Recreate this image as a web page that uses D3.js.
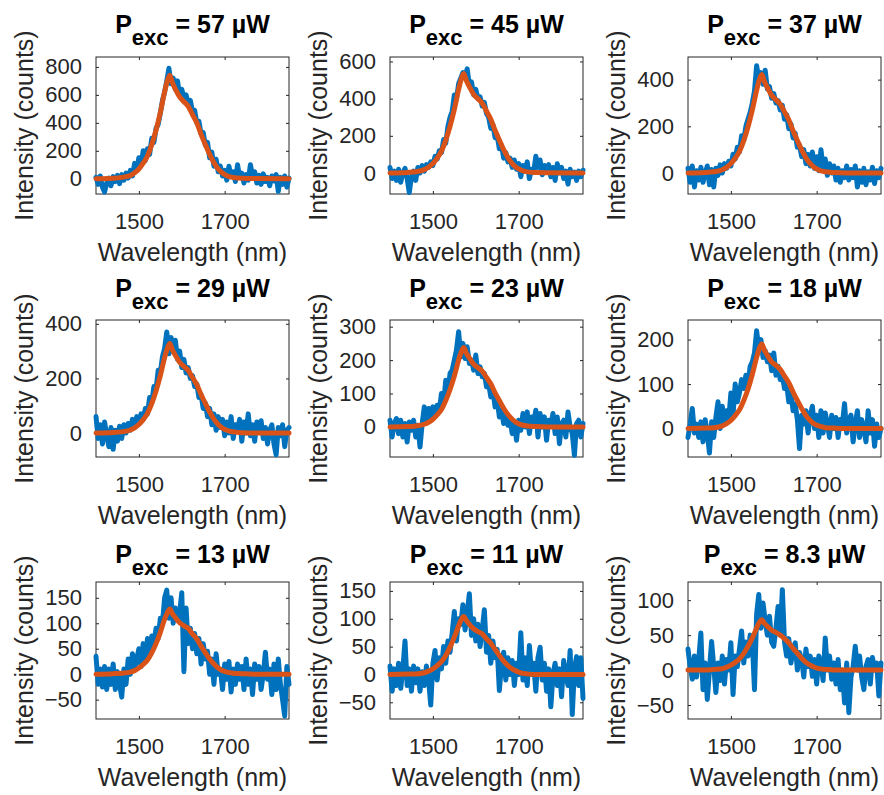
<!DOCTYPE html>
<html>
<head>
<meta charset="utf-8">
<script src="https://cdn.jsdelivr.net/npm/d3@7"></script>
<style>
    body { margin: 0; background: #fff; }
    svg { display: block; font-family: 'Liberation Sans', Arial, Helvetica, sans-serif; }
</style>
</head>
<body>
<svg width="884" height="795"></svg>
<script>
// ---- Dados
const wavelength = [
    1400, 1405, 1410, 1415, 1420, 1425, 1430, 1435, 1440, 1445,
    1450, 1455, 1460, 1465, 1470, 1475, 1480, 1485, 1490, 1495,
    1500, 1505, 1510, 1515, 1520, 1525, 1530, 1535, 1540, 1545,
    1550, 1555, 1560, 1565, 1570, 1575, 1580, 1585, 1590, 1595,
    1600, 1605, 1610, 1615, 1620, 1625, 1630, 1635, 1640, 1645,
    1650, 1655, 1660, 1665, 1670, 1675, 1680, 1685, 1690, 1695,
    1700, 1705, 1710, 1715, 1720, 1725, 1730, 1735, 1740, 1745,
    1750, 1755, 1760, 1765, 1770, 1775, 1780, 1785, 1790, 1795,
    1800, 1805, 1810, 1815, 1820, 1825, 1830, 1835, 1840, 1845,
    1850
];

const fitWavelength = [1400, 1440, 1460, 1480, 1490, 1500, 1510, 1520, 1530, 1540, 1550, 1560, 1566, 1572, 1578, 1586,
    1595, 1605, 1615, 1625, 1635, 1645, 1655, 1665, 1675, 1685, 1695, 1705, 1720, 1740, 1770, 1850];

const powers = ['57', '45', '37', '29', '23', '18', '13', '11', '8.3'];

const spec57 = [
    10, -40, 20, -60, -95, -30, 5, -50, 15, -20,
    25, -35, 30, -10, 40, 5, 60, 20, 110, 60,
    150, 95, 200, 130, 215, 175, 290, 260, 360, 390,
    470, 560, 620, 700, 790, 680, 720, 640, 700, 600,
    640, 580, 600, 540, 560, 480, 490, 400, 410, 320,
    330, 240, 260, 150, 190, 90, 140, 50, 90, 20,
    60, -10, 90, 15, 50, -20, 100, 10, 40, -30,
    30, -10, 100, 20, 50, -30, 25, -40, 35, -20,
    10, -50, 20, -15, 30, -90, 10, -40, 20, -60,
    5
];
const spec45 = [
    30, -30, 10, -40, 20, -50, 0, 25, -30, -105,
    -20, 10, -40, 30, 0, 40, 10, 45, 30, 60,
    40, 90, 75, 120, 110, 180, 160, 250, 300, 330,
    420, 400, 480, 510, 540, 520, 560, 470, 490, 420,
    450, 400, 410, 360, 380, 320, 300, 240, 260, 190,
    200, 130, 150, 80, 110, 60, 80, 30, 70, 20,
    50, -20, 40, 10, 60, -30, 20, 5, 90, 30,
    70, -10, 40, 10, 45, -20, 30, -40, 50, 0,
    30, -30, 10, -60, 20, -20, 5, -40, 10, -20,
    15
];
const spec37 = [
    20, -40, 30, -60, 10, -30, 25, -40, 0, 30,
    -50, 15, -60, 20, -10, 35, 0, 40, 20, 50,
    30, 80, 60, 110, 90, 160, 140, 200, 230, 260,
    300, 350, 460, 400, 430, 380, 440, 360, 370, 320,
    340, 300, 310, 270, 290, 230, 250, 190, 210, 150,
    170, 110, 120, 70, 100, 40, 80, 30, 90, 20,
    70, 10, 100, 20, 60, -10, 40, 0, 30, -30,
    20, -40, 10, -20, 30, -30, 15, -20, 30, -60,
    10, -40, 20, -50, 5, -30, 25, -45, 10, -20,
    20
];
const spec29 = [
    60, -20, 30, -40, 40, -10, -50, 20, -60, 10,
    -30, 25, -20, 30, 0, 35, 10, 50, 20, 60,
    40, 70, 50, 90, 70, 130, 110, 170, 160, 230,
    220, 280, 310, 370, 290, 350, 300, 340, 270, 300,
    240, 270, 220, 240, 200, 210, 170, 180, 130, 140,
    90, 110, 60, 90, 30, 70, 10, 60, 20, 50,
    -10, 40, 0, 60, -20, 30, 10, 50, -30, 40,
    0, 70, -10, 30, -30, 40, 10, 45, -20, 20,
    -40, 10, 30, -40, -80, 20, -10, 30, -50, 10,
    20
];
const spec23 = [
    20, -30, 10, 25, -20, 20, -30, 10, -45, 15,
    -10, 20, -30, 5, -60, 10, 60, 20, 55, 30,
    60, 40, 65, 50, 100, 70, 140, 100, 160, 170,
    200, 230, 285, 210, 250, 205, 240, 190, 200, 170,
    215, 160, 180, 150, 160, 120, 130, 90, 110, 60,
    80, 30, 50, 10, 40, 5, 20, -20, 10, -40,
    20, -10, 40, 0, 45, -20, 30, 10, 50, -30,
    40, 0, 30, -40, 20, 5, 40, -20, 30, -50,
    10, 20, -30, 45, 0, -20, -85, 10, 20, -30,
    10
];
const spec18 = [
    -20, 10, 45, -10, 10, -20, 15, -30, 20, -10,
    -55, 15, -20, 25, 60, 0, 50, 10, 40, 20,
    80, 30, 100, 60, 80, 110, 90, 120, 100, 140,
    150, 170, 220, 180, 200, 160, 175, 150, 165, 130,
    170, 120, 140, 110, 120, 90, 100, 60, 80, 40,
    55, 20, -45, 30, 10, 40, -10, 30, 50, 0,
    30, -20, 40, -10, 35, 10, -20, 30, 0, 25,
    -20, 20, 10, 56, -10, 20, 30, -30, 10, 40,
    -20, 20, 0, -30, 40, -10, 20, -40, 10, -20,
    0
];
const spec13 = [
    35, -20, 10, -25, 15, -30, 10, -20, 20, -30,
    5, -20, -45, 10, -20, 30, 0, 40, 10, 30,
    50, 15, 60, 30, 70, 40, 75, 60, 90, 70,
    110, 100, 150, 165, 110, 150, 100, 130, 110, 120,
    160, 5, 130, 60, 90, 50, 80, 40, 70, 20,
    60, 30, 45, 0, 30, -20, 40, 0, 10, -30,
    20, -10, 25, -35, 10, -20, 20, -10, 15, -30,
    30, -20, 10, -40, 20, -10, 15, -30, 0, 43,
    -10, 10, -40, 20, -30, 30, -20, -50, -82, 15,
    -20
];
const spec11 = [
    15, -30, 10, -20, 20, -25, 10, 60, -20, 10,
    -30, 15, -15, 10, -30, 5, -20, 15, -10, -55,
    20, 43, -10, 30, 10, 50, 20, 60, 40, 75,
    113, 60, 100, 90, 125, 80, 110, 145, 70, 100,
    60, 90, 50, 80, 116, 40, 70, 20, 60, 30,
    45, -29, 20, 40, -10, 30, 0, 25, -20, 20,
    0, 75, -10, 30, -20, 52, 0, 20, -30, 30,
    49, -10, 20, -30, 10, -58, 0, 20, -20, 10,
    -40, 25, 0, -20, 43, -72, 10, 32, -20, 30,
    -43
];
const spec8p3 = [
    30, 5, -13, 20, -10, 15, 53, -28, 10, -42,
    0, 41, 5, -32, 10, -15, 20, -20, 15, 0,
    39, -35, 20, 5, 30, 56, 10, 40, 20, 50,
    40, -28, 80, 108, 60, 96, 70, 50, 77, 40,
    34, 60, 91, 50, 115, 40, 20, 45, 10, 30,
    39, 0, 25, 15, -10, 30, 5, 20, -9, 15,
    -20, 20, 10, -15, 46, 0, 20, -13, 10, -20,
    15, -28, 0, -47, 10, -61, -10, 5, 34, 0,
    20, -10, -28, 5, 15, -20, 18, 0, 10, -37,
    10
];

// ajuste (curva laranja)
const fit57  = [0, 4, 10, 24, 43, 70, 111, 163, 244, 348, 474, 622, 696, 740, 688, 636, 585, 551, 518, 459, 400, 318, 244, 174, 115, 70, 41, 22, 9, 3, 1, 0];
const fit45  = [0, 3, 7, 18, 31, 51, 80, 118, 177, 251, 342, 449, 503, 535, 498, 460, 423, 399, 375, 332, 289, 230, 177, 126, 83, 51, 29, 16, 6, 2, 1, 0];
const fit37  = [0, 2, 5, 14, 24, 40, 63, 93, 139, 198, 270, 354, 397, 422, 392, 363, 333, 314, 295, 262, 228, 181, 139, 99, 65, 40, 23, 13, 5, 2, 0, 0];
const fit29  = [0, 2, 4, 11, 19, 31, 49, 72, 108, 154, 210, 276, 308, 328, 305, 282, 259, 244, 230, 203, 177, 141, 108, 77, 51, 31, 18, 10, 4, 1, 0, 0];
const fit23  = [0, 1, 3, 8, 14, 23, 36, 52, 79, 112, 152, 200, 224, 238, 221, 205, 188, 177, 167, 148, 129, 102, 79, 56, 37, 23, 13, 7, 3, 1, 0, 0];
const fit18  = [0, 1, 2, 6, 11, 18, 29, 42, 63, 89, 122, 160, 179, 190, 177, 163, 150, 142, 133, 118, 103, 82, 63, 45, 29, 18, 10, 6, 2, 1, 0, 0];
const fit13  = [0, 1, 2, 4, 7, 12, 19, 28, 42, 60, 82, 108, 120, 128, 119, 110, 101, 95, 90, 79, 69, 55, 42, 30, 20, 12, 7, 4, 2, 1, 0, 0];
const fit11  = [0, 1, 1, 3, 6, 10, 16, 23, 34, 49, 67, 87, 98, 104, 97, 89, 82, 77, 73, 64, 56, 45, 34, 24, 16, 10, 6, 3, 1, 0, 0, 0];
const fit8p3 = [0, 0, 1, 2, 4, 7, 11, 16, 24, 34, 46, 60, 68, 72, 67, 62, 57, 54, 50, 45, 39, 31, 24, 17, 11, 7, 4, 2, 1, 0, 0, 0];

const xLimits = [1400, 1850];
const xTickValues = [1500, 1700];
const yLimits = [[-109, 871], [-113, 624], [-90, 497], [-88, 414], [-90, 320], [-64, 244], [-88, 181], [-80, 166], [-70, 126]];
const yTickValues = [
    [0, 200, 400, 600, 800], [0, 200, 400, 600], [0, 200, 400],
    [0, 200, 400], [0, 100, 200, 300], [0, 100, 200],
    [-50, 0, 50, 100, 150], [-50, 0, 50, 100, 150], [-50, 0, 50, 100]
];

const spectra = [spec57, spec45, spec37, spec29, spec23, spec18, spec13, spec11, spec8p3];
const fits = [fit57, fit45, fit37, fit29, fit23, fit18, fit13, fit11, fit8p3];

// ---- Layout
const colLeft = [96, 390, 688];
const rowTop = [57, 320, 582];
const titleGap = [24, 23, 19];
const plotW = 193;
const plotH = 137;
const axisColor = '#262626';
const plain = d3.format('d');

const svg = d3.select('svg');

powers.forEach((p, i) => {
    const col = i % 3;
    const row = Math.floor(i / 3);

    const g = svg.append('g')
        .attr('transform', `translate(${colLeft[col]}, ${rowTop[row]})`);

    const mapX = d3.scaleLinear().domain(xLimits).range([0, plotW]);
    const mapY = d3.scaleLinear().domain(yLimits[i]).range([plotH, 0]);

    // ---- Eixos
    const bottom = g.append('g')
        .attr('transform', `translate(0, ${plotH})`)
        .call(d3.axisBottom(mapX).tickValues(xTickValues).tickFormat(plain)
            .tickSizeInner(-3).tickSizeOuter(0).tickPadding(19));
    const left = g.append('g')
        .call(d3.axisLeft(mapY).tickValues(yTickValues[i]).tickFormat(plain)
            .tickSizeInner(-3).tickSizeOuter(0).tickPadding(14));
    const top = g.append('g')
        .call(d3.axisTop(mapX).tickValues(xTickValues).tickSizeInner(-3).tickSizeOuter(0).tickFormat(''));
    const right = g.append('g')
        .attr('transform', `translate(${plotW}, 0)`)
        .call(d3.axisRight(mapY).tickValues(yTickValues[i]).tickSizeInner(-3).tickSizeOuter(0).tickFormat(''));

    [bottom, left, top, right].forEach(a => {
        a.select('.domain').remove();
        a.selectAll('line').attr('stroke', axisColor);
        a.selectAll('text')
            .attr('fill', axisColor)
            .attr('font-size', '22px')
            .attr('font-family', "'Liberation Sans', Arial, sans-serif");
    });

    g.append('rect')
        .attr('x', 0)
        .attr('y', 0)
        .attr('width', plotW)
        .attr('height', plotH)
        .attr('fill', 'none')
        .attr('stroke', axisColor)
        .attr('stroke-width', 1);

    // ---- Linhas
    const dataLine = d3.line()
        .x(d => mapX(d[0]))
        .y(d => mapY(d[1]));

    g.append('path')
        .datum(wavelength.map((w, k) => [w, spectra[i][k]]))
        .attr('d', dataLine)
        .attr('fill', 'none')
        .attr('stroke', '#0072BD')
        .attr('stroke-width', 5)
        .attr('stroke-linejoin', 'round')
        .attr('stroke-linecap', 'round');

    const fitLine = d3.line()
        .x(d => mapX(d[0]))
        .y(d => mapY(d[1]))
        .curve(d3.curveMonotoneX);

    g.append('path')
        .datum(fitWavelength.map((w, k) => [w, fits[i][k]]))
        .attr('d', fitLine)
        .attr('fill', 'none')
        .attr('stroke', '#D95319')
        .attr('stroke-width', 5)
        .attr('stroke-linejoin', 'round')
        .attr('stroke-linecap', 'round');

    // ---- Textos
    const title = g.append('text')
        .attr('x', plotW / 2)
        .attr('y', -titleGap[row])
        .attr('text-anchor', 'middle')
        .attr('font-size', '25px')
        .attr('font-weight', '700')
        .attr('fill', '#000');
    title.append('tspan').text('P');
    title.append('tspan').attr('dy', 12).attr('font-size', '22px').text('exc');
    title.append('tspan').attr('dy', -12).text(` = ${p} µW`);

    g.append('text')
        .attr('x', plotW / 2)
        .attr('y', plotH + 67)
        .attr('text-anchor', 'middle')
        .attr('font-size', '25px')
        .attr('fill', axisColor)
        .text('Wavelength (nm)');

    g.append('text')
        .attr('transform', `translate(-63, ${plotH / 2}) rotate(-90)`)
        .attr('text-anchor', 'middle')
        .attr('font-size', '25px')
        .attr('fill', axisColor)
        .text('Intensity (counts)');
});
</script>
</body>
</html>
